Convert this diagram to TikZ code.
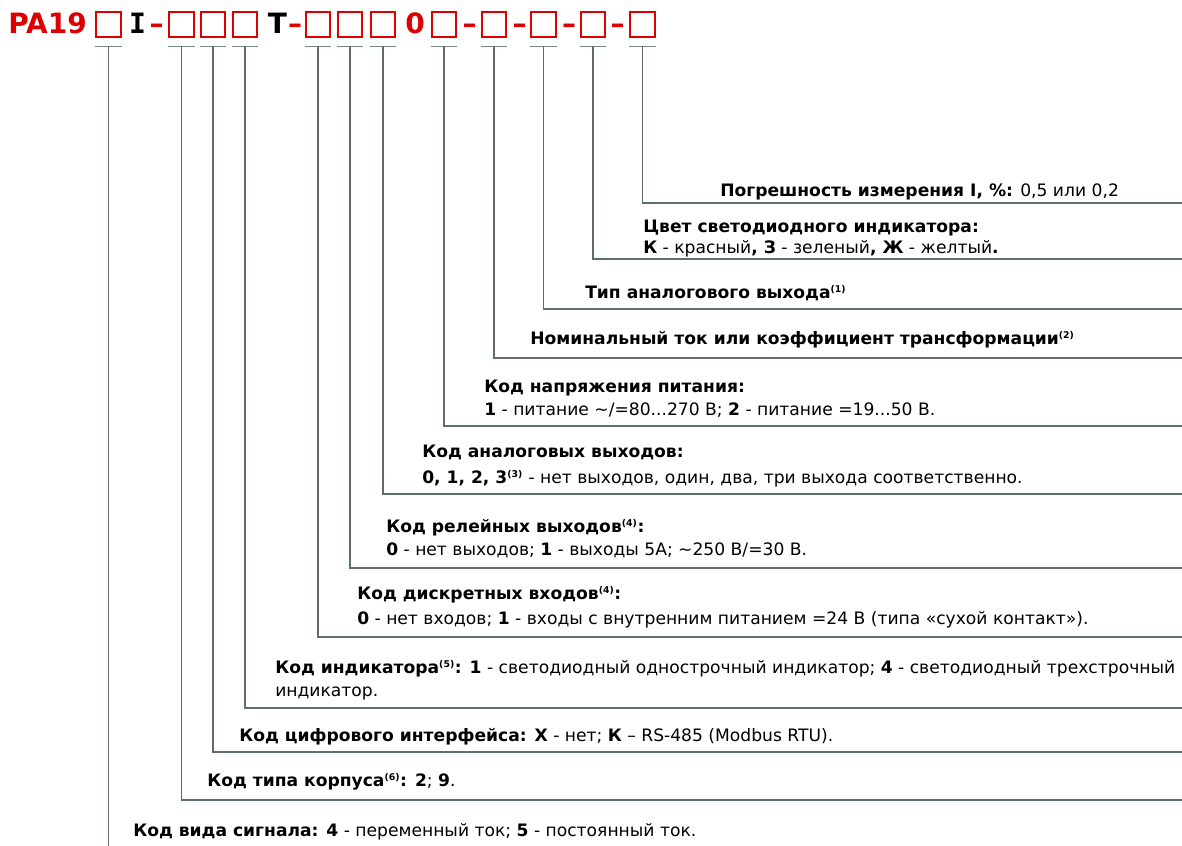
\documentclass[tikz,border=0pt]{standalone}
\usepackage{fontspec}
\usepackage{xcolor}
\setmainfont{DejaVu Sans}
\newfontfamily\serifI{DejaVu Sans Mono}
\definecolor{codered}{RGB}{221,0,0}
\definecolor{leadgray}{RGB}{94,110,110}
\definecolor{tickgray}{RGB}{120,136,136}
\newcommand{\fnote}[1]{\textsuperscript{\fontsize{7}{7}\selectfont\bfseries(#1)}}

\begin{document}
\begin{tikzpicture}[x=0.75pt,y=-0.75pt,
  code/.style={draw=codered, line width=1.5pt, minimum size=18.5pt, inner sep=0pt},
  head/.style={text=codered, font=\fontsize{21}{21}\selectfont\bfseries, inner sep=0pt, anchor=base},
  tick/.style={draw=tickgray, line width=1pt},
  lead/.style={draw=leadgray, line width=1.1pt},
  desc/.style={anchor=base west, inner sep=0pt, font=\fontsize{12.85}{15}\selectfont}]
\useasboundingbox (0,0) rectangle (1182,846);
% Drawing the order code
\node[head,anchor=base west] (pa) at (8,33) {PA19};
\node[code] (b1) at (108.5,24.5) {};
\node[head,text=black,font=\fontsize{21}{21}\selectfont\serifI\bfseries] (ci) at (137.5,33) {I};
\node[head] (h1) at (156.5,33) {--};
\node[code] (b2) at (181.5,24.5) {};
\node[code] (b3) at (213,24.5) {};
\node[code] (b4) at (245,24.5) {};
\node[head,text=black] (ct) at (277.5,33) {T};
\node[head] (h2) at (295,33) {--};
\node[code] (b5) at (318,24.5) {};
\node[code] (b6) at (350,24.5) {};
\node[code] (b7) at (383,24.5) {};
\node[head] (c0) at (415,33) {0};
\node[code] (b8) at (444,24.5) {};
\node[head] (h3) at (469.5,33) {--};
\node[code] (b9) at (494,24.5) {};
\node[head] (h4) at (519.5,33) {--};
\node[code] (b10) at (543.5,24.5) {};
\node[head] (h5) at (569,33) {--};
\node[code] (b11) at (593,24.5) {};
\node[head] (h6) at (617.5,33) {--};
\node[code] (b12) at (642.5,24.5) {};
% Done with the code; drawing descriptions
\node[desc] (d12) at (720,196) {\textbf{Погрешность измерения I, \%:} 0,5 или 0,2};
\node[desc] (d11) at (643,232) {\textbf{Цвет светодиодного индикатора:}};
\node[desc] (d11x) at (643,253) {\textbf{К} - красный\textbf{, З} - зеленый\textbf{, Ж} - желтый\textbf{.}};
\node[desc] (d10) at (585,298) {\textbf{Тип аналогового выхода}\fnote{1}};
\node[desc] (d9) at (530,344) {\textbf{Номинальный ток или коэффициент трансформации}\fnote{2}};
\node[desc] (d8) at (484,392) {\textbf{Код напряжения питания:}};
\node[desc] (d8x) at (484,415) {\textbf{1} - питание \textasciitilde/=80...270 В; \textbf{2} - питание =19...50 В.};
\node[desc] (d7) at (422,457) {\textbf{Код аналоговых выходов:}};
\node[desc] (d7x) at (422,483) {\textbf{0, 1, 2, 3}\fnote{3} - нет выходов, один, два, три выхода соответственно.};
\node[desc] (d6) at (386,532) {\textbf{Код релейных выходов}\fnote{4}\textbf{:}};
\node[desc] (d6x) at (386,555) {\textbf{0} - нет выходов; \textbf{1} - выходы 5А; \textasciitilde250 В/=30 В.};
\node[desc] (d5) at (357,599) {\textbf{Код дискретных входов}\fnote{4}\textbf{:}};
\node[desc] (d5x) at (357,624) {\textbf{0} - нет входов; \textbf{1} - входы с внутренним питанием =24 В (типа «сухой контакт»).};
\node[desc] (d4) at (275,673) {\textbf{Код индикатора}\fnote{5}\textbf{: 1} - светодиодный однострочный индикатор; \textbf{4} - светодиодный трехстрочный};
\node[desc] (d4x) at (275,696) {индикатор.};
\node[desc] (d3) at (239,741) {\textbf{Код цифрового интерфейса: X} - нет; \textbf{К} -- RS-485 (Modbus RTU).};
\node[desc] (d2) at (207,786) {\textbf{Код типа корпуса}\fnote{6}\textbf{: 2}; \textbf{9}.};
\node[desc] (d1) at (133,836) {\textbf{Код вида сигнала: 4} - переменный ток; \textbf{5} - постоянный ток.};
% Ends of the leaders at the right edge
\coordinate (e12) at (1182,203);
\coordinate (e11) at (1182,259);
\coordinate (e10) at (1182,309);
\coordinate (e9) at (1182,358);
\coordinate (e8) at (1182,426);
\coordinate (e7) at (1182,494);
\coordinate (e6) at (1182,568);
\coordinate (e5) at (1182,637);
\coordinate (e4) at (1182,708);
\coordinate (e3) at (1182,752);
\coordinate (e2) at (1182,800);
\coordinate (e1) at (108.5,846);
% Drawing ticks and leaders
\draw[tick] ([yshift=-6.4pt]b1.south west) -- ([yshift=-6.4pt]b1.south east);
\draw[lead] ([yshift=-6.4pt]b1.south) -- (e1);
\draw[tick] ([yshift=-6.4pt]b2.south west) -- ([yshift=-6.4pt]b2.south east);
\draw[lead] ([yshift=-6.4pt]b2.south) |- (e2);
\draw[tick] ([yshift=-6.4pt]b3.south west) -- ([yshift=-6.4pt]b3.south east);
\draw[lead] ([yshift=-6.4pt]b3.south) |- (e3);
\draw[tick] ([yshift=-6.4pt]b4.south west) -- ([yshift=-6.4pt]b4.south east);
\draw[lead] ([yshift=-6.4pt]b4.south) |- (e4);
\draw[tick] ([yshift=-6.4pt]b5.south west) -- ([yshift=-6.4pt]b5.south east);
\draw[lead] ([yshift=-6.4pt]b5.south) |- (e5);
\draw[tick] ([yshift=-6.4pt]b6.south west) -- ([yshift=-6.4pt]b6.south east);
\draw[lead] ([yshift=-6.4pt]b6.south) |- (e6);
\draw[tick] ([yshift=-6.4pt]b7.south west) -- ([yshift=-6.4pt]b7.south east);
\draw[lead] ([yshift=-6.4pt]b7.south) |- (e7);
\draw[tick] ([yshift=-6.4pt]b8.south west) -- ([yshift=-6.4pt]b8.south east);
\draw[lead] ([yshift=-6.4pt]b8.south) |- (e8);
\draw[tick] ([yshift=-6.4pt]b9.south west) -- ([yshift=-6.4pt]b9.south east);
\draw[lead] ([yshift=-6.4pt]b9.south) |- (e9);
\draw[tick] ([yshift=-6.4pt]b10.south west) -- ([yshift=-6.4pt]b10.south east);
\draw[lead] ([yshift=-6.4pt]b10.south) |- (e10);
\draw[tick] ([yshift=-6.4pt]b11.south west) -- ([yshift=-6.4pt]b11.south east);
\draw[lead] ([yshift=-6.4pt]b11.south) |- (e11);
\draw[tick] ([yshift=-6.4pt]b12.south west) -- ([yshift=-6.4pt]b12.south east);
\draw[lead] ([yshift=-6.4pt]b12.south) |- (e12);
% Done
\end{tikzpicture}
\end{document}
